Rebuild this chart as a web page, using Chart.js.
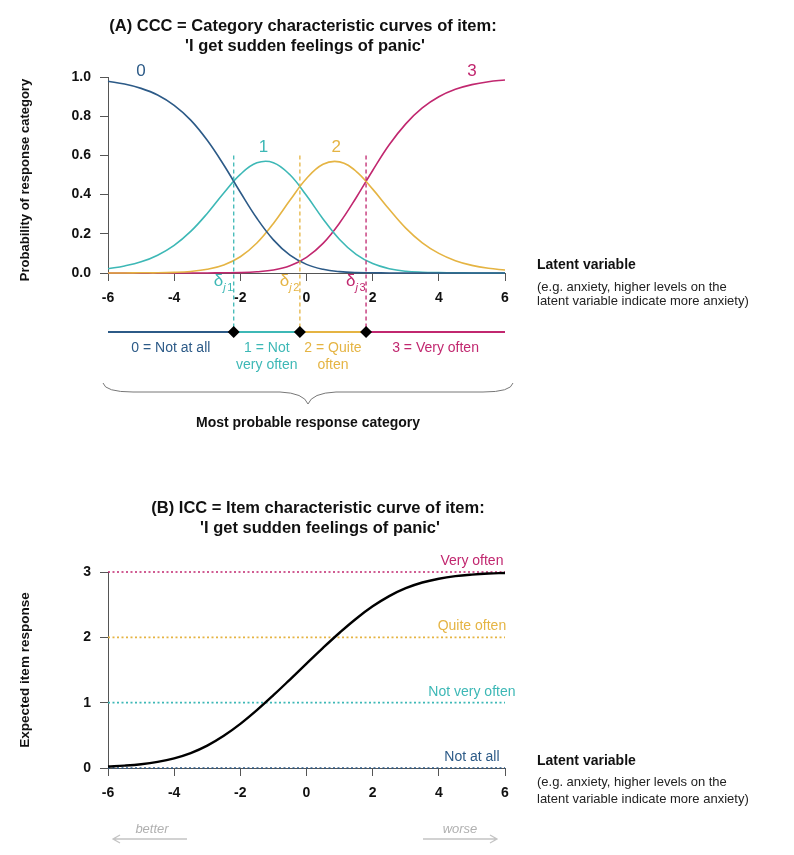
<!DOCTYPE html>
<html>
<head>
<meta charset="utf-8">
<script src="https://cdn.jsdelivr.net/npm/chart.js@4.4.0/dist/chart.umd.min.js"></script>
<style>
  body { margin: 0; background: #ffffff; }
  #wrap { position: relative; width: 794px; height: 855px; }
  canvas { position: absolute; left: 0; }
</style>
</head>
<body>
<div id="wrap">
  <canvas id="cccChart" width="794" height="440" style="top:0px"></canvas>
  <canvas id="iccChart" width="794" height="415" style="top:440px"></canvas>
</div>
<script>
// Latent variable grid (x values)
const theta = [-6, -5.5, -5, -4.5, -4, -3.5, -3, -2.5, -2, -1.5, -1, -0.5, 0, 0.5, 1, 1.5, 2, 2.5, 3, 3.5, 4, 4.5, 5, 5.5, 6];

// Panel A: probability of each response category
const probCat0 = [0.978, 0.964, 0.942, 0.908, 0.855, 0.780, 0.677, 0.551, 0.412, 0.279, 0.169, 0.091, 0.044, 0.019, 0.007, 0.002, 0.001, 0, 0, 0, 0, 0, 0, 0, 0];
const probCat1 = [0.022, 0.036, 0.057, 0.091, 0.141, 0.212, 0.304, 0.408, 0.503, 0.562, 0.563, 0.501, 0.395, 0.276, 0.171, 0.095, 0.048, 0.022, 0.009, 0.004, 0.002, 0.001, 0, 0, 0];
const probCat2 = [0, 0, 0.001, 0.001, 0.003, 0.008, 0.019, 0.041, 0.083, 0.153, 0.253, 0.371, 0.482, 0.555, 0.567, 0.519, 0.428, 0.325, 0.229, 0.154, 0.100, 0.063, 0.039, 0.024, 0.015];
const probCat3 = [0, 0, 0, 0, 0, 0, 0, 0.001, 0.002, 0.006, 0.015, 0.037, 0.080, 0.151, 0.255, 0.384, 0.523, 0.654, 0.761, 0.842, 0.899, 0.937, 0.961, 0.976, 0.985];

// Panel B: expected item response
const expectedResponse = [0.022, 0.036, 0.058, 0.094, 0.148, 0.228, 0.342, 0.492, 0.675, 0.885, 1.114, 1.354, 1.598, 1.839, 2.070, 2.285, 2.474, 2.631, 2.752, 2.839, 2.897, 2.936, 2.960, 2.976, 2.985];

// Thresholds (delta j1..j3) and categories
const thresholds = [-2.2, -0.2, 1.8];
const categoryCodes = ['0', '1', '2', '3'];
const categoryNames = ['Not at all', 'Not very often', 'Quite often', 'Very often'];
const categoryLabels = [['0 = Not at all'], ['1 = Not', 'very often'], ['2 = Quite', 'often'], ['3 = Very often']];
const responseLevels = [0, 1, 2, 3];

const catColors = ['#2c5a87', '#3db8b6', '#e5b443', '#c1276f'];
const FONT = "'Liberation Sans', Arial, Helvetica, sans-serif";

function toPoints(values) {
    return theta.map((t, i) => ({ x: t, y: values[i] }));
}

function axisOptions(min, max, step, fixedSize, isY, fmt) {
    return {
        type: 'linear',
        min: min,
        max: max,
        afterFit: function (scale) {
            if (isY) scale.width = fixedSize; else scale.height = fixedSize;
        },
        ticks: {
            stepSize: step,
            padding: 9,
            color: '#111111',
            font: { family: FONT, size: 14, weight: 'bold' },
            callback: fmt
        },
        grid: { drawOnChartArea: false, drawTicks: true, tickLength: 8, color: '#555555', lineWidth: 1 },
        border: { display: true, color: '#555555', width: 1 }
    };
}

function drawText(ctx, text, x, y, font, color, align) {
    ctx.font = font;
    ctx.fillStyle = color;
    ctx.textAlign = align || 'center';
    ctx.textBaseline = 'middle';
    ctx.fillText(text, x, y);
}

function drawRotated(ctx, text, x, y, font) {
    ctx.save();
    ctx.translate(x, y);
    ctx.rotate(-Math.PI / 2);
    drawText(ctx, text, 0, 0, font, '#111111');
    ctx.restore();
}

function drawLatentNote(ctx, x, y1, y2, y3) {
    drawText(ctx, 'Latent variable', x, y1, 'bold 14px ' + FONT, '#111111', 'left');
    drawText(ctx, '(e.g. anxiety, higher levels on the', x, y2, '13px ' + FONT, '#222222', 'left');
    drawText(ctx, 'latent variable indicate more anxiety)', x, y3, '13px ' + FONT, '#222222', 'left');
}

// Decorations for panel A
const cccDecor = {
    id: 'cccDecor',
    afterDraw(chart) {
        const ctx = chart.ctx;
        const xs = chart.scales.x;
        const ys = chart.scales.y;
        const area = chart.chartArea;
        const barY = area.bottom + 59;

        ctx.save();
        // title
        drawText(ctx, '(A) CCC = Category characteristic curves of item:', 303, 26, 'bold 16.5px ' + FONT, '#111111');
        drawText(ctx, "'I get sudden feelings of panic'", 305, 46, 'bold 16.5px ' + FONT, '#111111');
        drawRotated(ctx, 'Probability of response category', 25, 180, 'bold 13px ' + FONT);

        // curve numbers
        const numPos = [[-5, 1.03], [-1.3, 0.64], [0.9, 0.64], [5, 1.03]];
        categoryCodes.forEach((c, i) => {
            drawText(ctx, c, xs.getPixelForValue(numPos[i][0]), ys.getPixelForValue(numPos[i][1]), '17px ' + FONT, catColors[i]);
        });

        // threshold dashed lines + delta labels
        thresholds.forEach((d, i) => {
            const px = xs.getPixelForValue(d);
            const col = catColors[i + 1];
            ctx.strokeStyle = col;
            ctx.lineWidth = 1.3;
            ctx.setLineDash([4, 3]);
            ctx.beginPath();
            ctx.moveTo(px, ys.getPixelForValue(0.6));
            ctx.lineTo(px, barY);
            ctx.stroke();
            ctx.setLineDash([]);

            ctx.font = 'italic 11px ' + FONT;
            const sub = 'j' + (i + 1);
            const subW = ctx.measureText(sub).width;
            ctx.fillStyle = col;
            ctx.textAlign = 'left';
            ctx.textBaseline = 'alphabetic';
            ctx.fillText('j', px - 2 - subW, 291);
            ctx.font = '11px ' + FONT;
            ctx.fillText(String(i + 1), px - 2 - subW + 4, 291);
            ctx.font = '17px ' + FONT;
            ctx.textAlign = 'right';
            ctx.fillText('\u03b4', px - 2 - subW, 286);
        });

        // most probable category bar
        const bounds = [xs.min].concat(thresholds, [xs.max]);
        ctx.lineWidth = 2;
        for (let i = 0; i < 4; i++) {
            const a = xs.getPixelForValue(bounds[i]);
            const b = xs.getPixelForValue(bounds[i + 1]);
            ctx.strokeStyle = catColors[i];
            ctx.beginPath();
            ctx.moveTo(a, barY);
            ctx.lineTo(b, barY);
            ctx.stroke();
            const mid = (a + b) / 2;
            categoryLabels[i].forEach((line, k) => {
                drawText(ctx, line, mid, barY + 16 + k * 17, '14px ' + FONT, catColors[i]);
            });
        }
        ctx.fillStyle = '#000000';
        thresholds.forEach(d => {
            const px = xs.getPixelForValue(d);
            ctx.beginPath();
            ctx.moveTo(px, barY - 6);
            ctx.lineTo(px + 6, barY);
            ctx.lineTo(px, barY + 6);
            ctx.lineTo(px - 6, barY);
            ctx.closePath();
            ctx.fill();
        });

        // curly brace
        const l = area.left - 5, r = area.right + 8, c = (l + r) / 2;
        ctx.strokeStyle = '#777777';
        ctx.lineWidth = 1;
        ctx.beginPath();
        ctx.moveTo(l, 383);
        ctx.quadraticCurveTo(l + 2, 392, l + 30, 392);
        ctx.lineTo(c - 28, 392);
        ctx.quadraticCurveTo(c - 4, 393, c, 404);
        ctx.quadraticCurveTo(c + 4, 393, c + 28, 392);
        ctx.lineTo(r - 30, 392);
        ctx.quadraticCurveTo(r - 2, 392, r, 383);
        ctx.stroke();
        drawText(ctx, 'Most probable response category', c, 423, 'bold 14px ' + FONT, '#111111');

        drawLatentNote(ctx, 537, 265, 287, 301);
        ctx.restore();
    }
};

// Decorations for panel B
const iccDecor = {
    id: 'iccDecor',
    afterDraw(chart) {
        const ctx = chart.ctx;
        const xs = chart.scales.x;
        const ys = chart.scales.y;
        ctx.save();
        drawText(ctx, '(B) ICC = Item characteristic curve of item:', 318, 68, 'bold 16.5px ' + FONT, '#111111');
        drawText(ctx, "'I get sudden feelings of panic'", 320, 88, 'bold 16.5px ' + FONT, '#111111');
        drawRotated(ctx, 'Expected item response', 25, 230, 'bold 13.5px ' + FONT);

        responseLevels.forEach((lv, i) => {
            drawText(ctx, categoryNames[i], xs.getPixelForValue(5), ys.getPixelForValue(lv) - 11, '14px ' + FONT, catColors[i]);
        });

        drawLatentNote(ctx, 537, 321, 342, 359);

        // better / worse arrows
        ctx.strokeStyle = '#c4c4c4';
        ctx.lineWidth = 1.3;
        const ay = 399;
        [[187, 113], [423, 497]].forEach(([from, to]) => {
            const dir = Math.sign(to - from);
            ctx.beginPath();
            ctx.moveTo(from, ay);
            ctx.lineTo(to, ay);
            ctx.moveTo(to - dir * 7, ay - 4);
            ctx.lineTo(to, ay);
            ctx.lineTo(to - dir * 7, ay + 4);
            ctx.stroke();
        });
        drawText(ctx, 'better', 152, 389, 'italic 13px ' + FONT, '#b0b0b0');
        drawText(ctx, 'worse', 460, 389, 'italic 13px ' + FONT, '#b0b0b0');
        ctx.restore();
    }
};

const probSeries = [probCat0, probCat1, probCat2, probCat3];

new Chart(document.getElementById('cccChart'), {
    type: 'line',
    data: {
        datasets: probSeries.map((s, i) => ({
            label: categoryCodes[i],
            data: toPoints(s),
            borderColor: catColors[i],
            borderWidth: 1.6,
            pointRadius: 0,
            tension: 0.4,
            fill: false,
            clip: 2
        }))
    },
    options: {
        responsive: false,
        animation: false,
        layout: { padding: { left: 68, right: 289, top: 77, bottom: 137 } },
        plugins: { legend: { display: false }, tooltip: { enabled: false } },
        scales: {
            x: axisOptions(-6, 6, 2, 30, false, v => String(v)),
            y: axisOptions(0, 1, 0.2, 40, true, v => Number(v).toFixed(1))
        }
    },
    plugins: [cccDecor]
});

const refLines = responseLevels.map((lv, i) => ({
    label: categoryNames[i],
    data: [{ x: theta[0], y: lv }, { x: theta[theta.length - 1], y: lv }],
    borderColor: catColors[i],
    borderWidth: 1.6,
    borderDash: [2, 2.5],
    pointRadius: 0,
    clip: 2
}));

new Chart(document.getElementById('iccChart'), {
    type: 'line',
    data: {
        datasets: [{
            label: 'Expected item response',
            data: toPoints(expectedResponse),
            borderColor: '#000000',
            borderWidth: 2.4,
            pointRadius: 0,
            tension: 0.4,
            fill: false,
            clip: 2
        }].concat(refLines)
    },
    options: {
        responsive: false,
        animation: false,
        layout: { padding: { left: 68, right: 289, top: 132, bottom: 57 } },
        plugins: { legend: { display: false }, tooltip: { enabled: false } },
        scales: {
            x: axisOptions(-6, 6, 2, 30, false, v => String(v)),
            y: axisOptions(0, 3, 1, 40, true, v => String(v))
        }
    },
    plugins: [iccDecor]
});
</script>
</body>
</html>
